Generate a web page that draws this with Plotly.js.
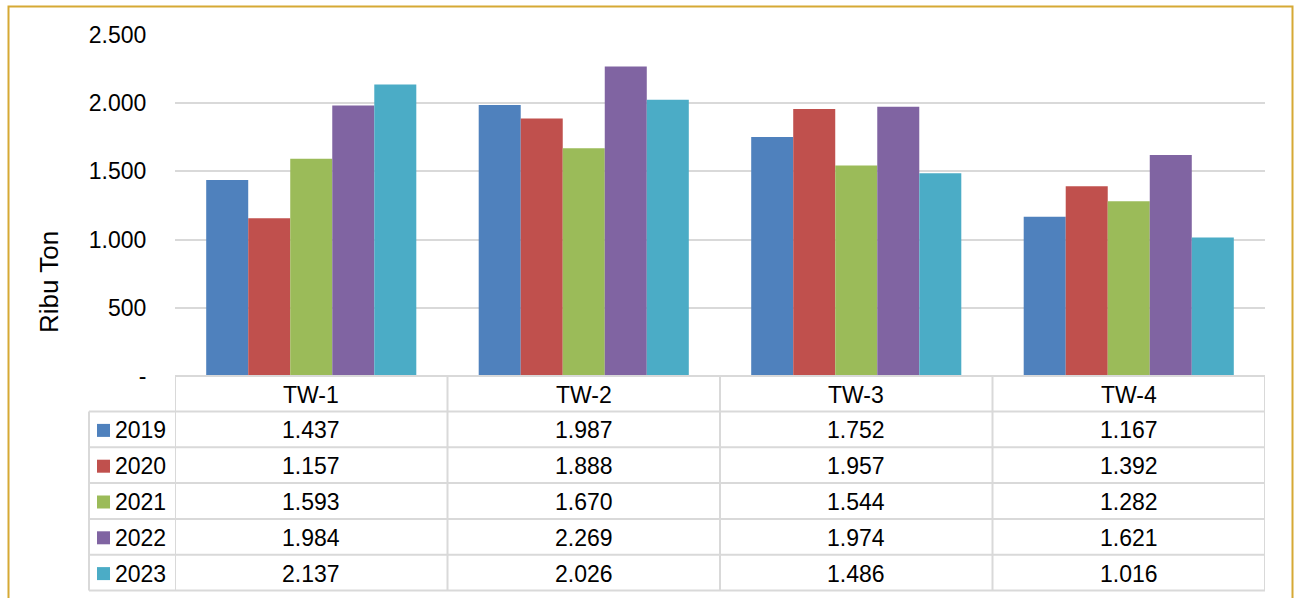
<!DOCTYPE html>
<html>
<head>
<meta charset="utf-8">
<script src="https://cdn.plot.ly/plotly-3.0.1.min.js"></script>
<style>html,body{margin:0;padding:0;background:#fff;}#chart{width:1295px;height:598px;}</style>
</head>
<body>
<div id="chart"></div>
<script>
// ---- data ----
const categories = ["TW-1", "TW-2", "TW-3", "TW-4"];
const years = ["2019", "2020", "2021", "2022", "2023"];
const values2019 = [1437, 1987, 1752, 1167];
const values2020 = [1157, 1888, 1957, 1392];
const values2021 = [1593, 1670, 1544, 1282];
const values2022 = [1984, 2269, 1974, 1621];
const values2023 = [2137, 2026, 1486, 1016];
const yTickVals = [0, 500, 1000, 1500, 2000, 2500];
const yTickText = ["-", "500", "1.000", "1.500", "2.000", "2.500"];
const yTitle = "Ribu Ton";

const seriesValues = [values2019, values2020, values2021, values2022, values2023];
const colors = ["#4F81BD", "#C0504D", "#9BBB59", "#8064A2", "#4BACC6"];

// ---- layout geometry (pixels) ----
const W = 1295, H = 598;
const px = x => x / W;
const py = y => 1 - y / H;
const plotLeft = 175, plotRight = 1265, plotTop = 35, plotBottom = 376;
const headerTop = 376, rowH = 35.8, headerH = 35.5;
const legendLeft = 89;
const font = "Liberation Sans, Arial, sans-serif";
const gridColor = "#d9d9d9";
const textSize = 23;

function fmt(v) {
  const s = String(v);
  return s.length > 3 ? s.slice(0, s.length - 3) + "." + s.slice(-3) : s;
}

const traces = years.map((y, i) => ({
  type: "bar",
  name: y,
  x: categories,
  y: seriesValues[i],
  marker: { color: colors[i], line: { width: 0 } },
  hoverinfo: "x+y+name"
}));

const shapes = [];
const annotations = [];

// table rows y positions
const rowTops = [];
for (let r = 0; r <= years.length; r++) rowTops.push(headerTop + headerH + r * rowH);
const tableBottom = rowTops[years.length];

// horizontal table lines
shapes.push({ type: "line", xref: "paper", yref: "paper", x0: px(plotLeft), x1: px(plotRight), y0: py(headerTop), y1: py(headerTop), line: { color: gridColor, width: 2 } });
rowTops.forEach(yy => {
  shapes.push({ type: "line", xref: "paper", yref: "paper", x0: px(legendLeft), x1: px(plotRight), y0: py(yy), y1: py(yy), line: { color: gridColor, width: 2 } });
});
// vertical lines
shapes.push({ type: "line", xref: "paper", yref: "paper", x0: px(legendLeft), x1: px(legendLeft), y0: py(rowTops[0]), y1: py(tableBottom), line: { color: gridColor, width: 2 } });
for (let c = 0; c <= categories.length; c++) {
  shapes.push({ type: "line", xref: "x", yref: "paper", x0: c - 0.5, x1: c - 0.5, y0: py(headerTop), y1: py(tableBottom), line: { color: gridColor, width: 2 } });
}

// header labels
categories.forEach(cat => {
  annotations.push({ xref: "x", yref: "paper", x: cat, y: py(headerTop + headerH / 2 + 1), text: cat, showarrow: false, font: { family: font, size: textSize, color: "#000" }, xanchor: "center", yanchor: "middle" });
});

// rows
years.forEach((yr, r) => {
  const cy = rowTops[r] + rowH / 2 + 1;
  shapes.push({ type: "rect", xref: "paper", yref: "paper", x0: px(97), x1: px(110), y0: py(cy - 6.5), y1: py(cy + 6.5), fillcolor: colors[r], line: { width: 0 } });
  annotations.push({ xref: "paper", yref: "paper", x: px(113), y: py(cy), text: yr, showarrow: false, font: { family: font, size: textSize, color: "#000" }, xanchor: "left", yanchor: "middle" });
  categories.forEach((cat, c) => {
    annotations.push({ xref: "x", yref: "paper", x: cat, y: py(cy), text: fmt(seriesValues[r][c]), showarrow: false, font: { family: font, size: textSize, color: "#000" }, xanchor: "center", yanchor: "middle" });
  });
});

// y-axis title
annotations.push({ xref: "paper", yref: "paper", x: px(49), y: py(282), text: yTitle, textangle: -90, showarrow: false, font: { family: font, size: 26, color: "#000" }, xanchor: "center", yanchor: "middle" });

// gold frame
shapes.push({ type: "rect", xref: "paper", yref: "paper", x0: px(8.5), x1: px(1292.5), y0: py(6.5), y1: py(620), line: { color: "#D6A935", width: 2 }, fillcolor: "rgba(0,0,0,0)", layer: "below" });

const layout = {
  width: W, height: H,
  margin: { l: 0, r: 0, t: 0, b: 0 },
  paper_bgcolor: "#fff",
  plot_bgcolor: "rgba(0,0,0,0)",
  showlegend: false,
  barmode: "group",
  bargap: 0.229,
  bargroupgap: 0,
  xaxis: {
    type: "category",
    domain: [px(plotLeft), px(plotRight)],
    showticklabels: false,
    showgrid: false,
    zeroline: false,
    showline: false,
    ticks: "",
    range: [-0.5, 3.5],
    fixedrange: true
  },
  yaxis: {
    domain: [py(plotBottom), py(plotTop)],
    range: [0, 2500],
    tickvals: yTickVals,
    ticktext: yTickText,
    showgrid: true,
    gridcolor: gridColor,
    gridwidth: 2,
    zeroline: false,
    showline: false,
    ticks: "outside",
    ticklen: 23,
    tickcolor: "rgba(0,0,0,0)",
    tickfont: { family: font, size: textSize, color: "#000" },
    fixedrange: true
  },
  shapes: shapes,
  annotations: annotations
};

Plotly.newPlot("chart", traces, layout, { displayModeBar: false, staticPlot: true });
</script>
</body>
</html>
